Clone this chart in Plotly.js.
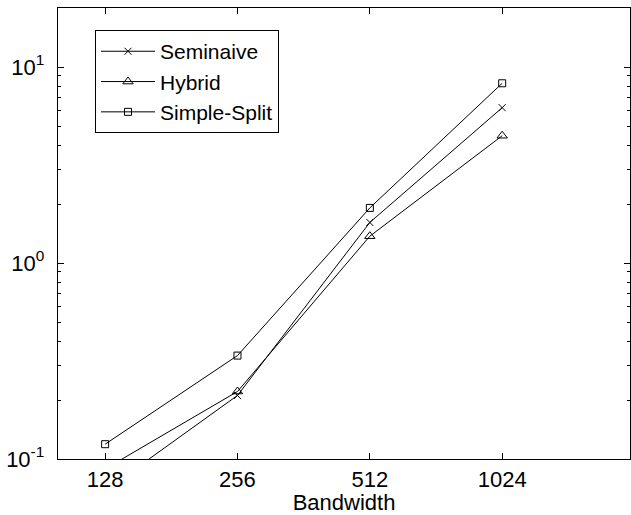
<!DOCTYPE html>
<html>
<head>
<meta charset="utf-8">
<script src="https://cdn.plot.ly/plotly-3.0.1.min.js"></script>
<style>html,body{margin:0;padding:0;background:#fff;}#chart{width:631px;height:515px;}</style>
</head>
<body>
<div id="chart"></div>
<script>
const bandwidth = [128, 256, 512, 1024];
const seminaive = [0.069, 0.211, 1.61, 6.2];
const hybrid = [0.089, 0.221, 1.37, 4.46];
const simpleSplit = [0.119, 0.337, 1.91, 8.26];
const seriesNames = ["Seminaive", "Hybrid", "Simple-Split"];
const xTickVals = [128, 256, 512, 1024];
const xTickText = ["128", "256", "512", "1024"];
const yTickVals = [0.1, 1, 10];
const yTickText = ["10<sup>-1</sup>", "10<sup>0</sup>", "10<sup>1</sup>"];

const FONT = "Liberation Sans, Arial, sans-serif";
function tr(y, name, sym, size) {
  return {
    x: bandwidth, y: y, name: name, type: "scatter", mode: "lines+markers",
    line: {color: "#000", width: 1},
    marker: {symbol: sym, size: size, color: "#000", line: {color: "#000", width: 1}}
  };
}
const data = [
  tr(seminaive, seriesNames[0], "x-thin-open", 7),
  tr(hybrid, seriesNames[1], "triangle-up-open", 9),
  tr(simpleSplit, seriesNames[2], "square-open", 7)
];
const minorY = [];
[0.1, 1, 10].forEach(d => { for (let k = 2; k <= 9; k++) minorY.push(+(d * k).toPrecision(3)); });
const layout = {
  width: 631, height: 515,
  margin: {l: 58, r: 1, t: 8, b: 56},
  paper_bgcolor: "#fff", plot_bgcolor: "#fff",
  font: {family: FONT, size: 22, color: "#000"},
  showlegend: true,
  legend: {
    x: 0.0647, y: 0.951, xanchor: "left", yanchor: "top",
    bordercolor: "#000", borderwidth: 1, bgcolor: "#fff",
    font: {family: FONT, size: 21, color: "#000"},
    itemwidth: 54
  },
  xaxis: {
    type: "log", range: [2, Math.log10(2000)],
    tickmode: "array", tickvals: xTickVals, ticktext: xTickText,
    ticks: "inside", ticklen: 6, tickwidth: 1, tickcolor: "#000",
    showline: true, linecolor: "#000", linewidth: 1.3, mirror: "allticks",
    showgrid: false, zeroline: false,
    tickfont: {family: FONT, size: 22},
    title: {text: "Bandwidth", font: {family: FONT, size: 22}, standoff: 0}
  },
  yaxis: {
    type: "log", range: [-1, Math.log10(20)],
    tickmode: "array", tickvals: yTickVals, ticktext: yTickText,
    ticks: "inside", ticklen: 6, tickwidth: 1, tickcolor: "#000",
    ticklabelstandoff: 8,
    minor: {tickmode: "array", tickvals: minorY, ticks: "inside", ticklen: 3, tickcolor: "#000", showgrid: false},
    showline: true, linecolor: "#000", linewidth: 1.3, mirror: "allticks",
    showgrid: false, zeroline: false,
    tickfont: {family: FONT, size: 22}
  }
};
Plotly.newPlot("chart", data, layout, {displayModeBar: false, staticPlot: true});
</script>
</body>
</html>
